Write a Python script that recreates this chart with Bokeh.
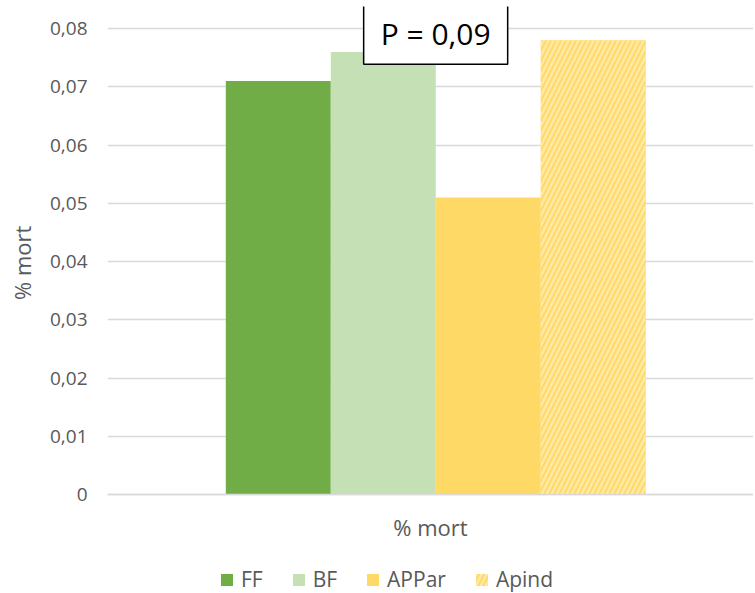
from bokeh.plotting import figure
from bokeh.models import (ColumnDataSource, Range1d, FactorRange, FixedTicker, Legend,
                          LegendItem, Label)
from bokeh.transform import dodge
from bokeh.embed import file_html
from bokeh.resources import INLINE

# ---- data ----
category = ["% mort"]
series = ["FF", "BF", "APPar", "Apind"]
values = [0.071, 0.076, 0.051, 0.078]
colors = ["#70AD47", "#C5E0B4", "#FFD966", "#FFD966"]
offsets = [-0.2356, -0.0731, 0.0894, 0.2519]
y_ticks = [0, 0.01, 0.02, 0.03, 0.04, 0.05, 0.06, 0.07, 0.08]
y_tick_labels = ["0", "0,01", "0,02", "0,03", "0,04", "0,05", "0,06", "0,07", "0,08"]
y_title = "% mort"
annotation = "P = 0,09"

FONT = "Open Sans"
GREY = "#595959"

# frame runs to the bottom of the canvas; the x axis sits at y = 0
p = figure(frame_width=646, frame_height=587, x_range=FactorRange(*category, range_padding=0),
           y_range=Range1d(-0.0170, 0.0838), output_backend="svg", toolbar_location=None,
           min_border_top=6, min_border_left=107, min_border_right=0,
           min_border_bottom=0)
p.outline_line_color = None

renderers = []
for name, val, col, off in zip(series, values, colors, offsets):
    src = ColumnDataSource(dict(x=category, top=[val]))
    kw = {}
    if name == "Apind":
        kw = dict(hatch_pattern="/", hatch_color="#FFE9A6", hatch_scale=10,
                  hatch_weight=2.5, hatch_alpha=1.0)
    r = p.vbar(x=dodge("x", off, range=p.x_range), top="top", bottom=0, width=0.1625,
               source=src, fill_color=col, line_color=None, **kw)
    renderers.append((name, r))

# axes
p.yaxis.ticker = FixedTicker(ticks=y_ticks)
p.yaxis.major_label_overrides = {t: l for t, l in zip(y_ticks, y_tick_labels)}
p.yaxis.axis_line_color = None
p.yaxis.major_tick_line_color = None
p.yaxis.minor_tick_line_color = None
p.yaxis.major_tick_out = 0
p.yaxis.minor_tick_out = 0
p.yaxis.major_label_text_color = GREY
p.yaxis.major_label_text_font = FONT
p.yaxis.major_label_text_font_size = "19px"
p.yaxis.major_label_standoff = 20
# leading no-break spaces lift the visible title to the centre of the 0..0.08 span
p.yaxis.axis_label = "\u00a0" * 13 + y_title
p.yaxis.axis_label_text_font = FONT
p.yaxis.axis_label_text_font_style = "normal"
p.yaxis.axis_label_text_font_size = "22px"
p.yaxis.axis_label_text_color = GREY
p.yaxis.axis_label_standoff = 10

p.xaxis.fixed_location = 0
p.xaxis.axis_line_color = "#D9D9D9"
p.xaxis.axis_line_width = 1.5
p.xaxis.major_tick_line_color = None
p.xaxis.minor_tick_line_color = None
p.xaxis.major_tick_out = 0
p.xaxis.minor_tick_out = 0
p.xaxis.major_label_text_color = GREY
p.xaxis.major_label_text_font = FONT
p.xaxis.major_label_text_font_size = "22px"
p.xaxis.major_label_standoff = 17

p.xgrid.grid_line_color = None
p.ygrid.grid_line_color = "#D9D9D9"
p.ygrid.grid_line_width = 1.5

legend = Legend(items=[LegendItem(label=n, renderers=[r]) for n, r in renderers],
                orientation="horizontal", location=(112, 0),
                label_text_font=FONT, label_text_font_size="21px",
                label_text_color=GREY, glyph_width=15, glyph_height=15,
                spacing=28, label_standoff=7, border_line_color=None,
                background_fill_alpha=0, margin=0, padding=0)
p.add_layout(legend, "center")

lab = Label(x=0.508, y=0.0791, text=annotation, text_align="center",
            text_baseline="middle", text_font=FONT, text_font_size="30px",
            text_color="#000000", border_line_color="#000000", border_line_width=1.5,
            background_fill_color="white",
            padding=dict(left=17, right=17, top=10, bottom=10))
p.add_layout(lab)

open("out.html", "w").write(file_html(p, INLINE))
